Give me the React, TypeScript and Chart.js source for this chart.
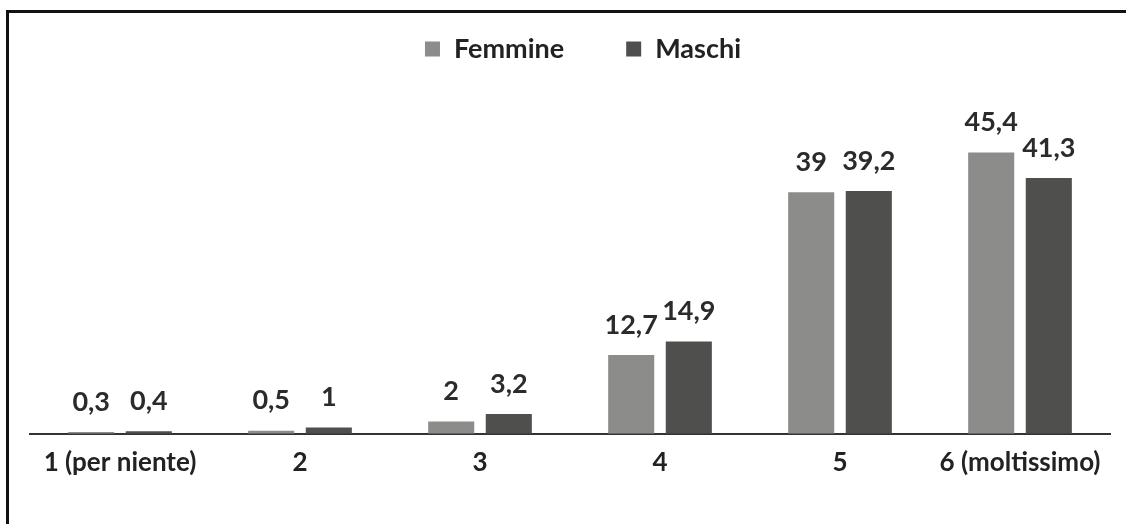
import React, { useEffect, useRef } from "react";
import { Chart, registerables } from "chart.js";

Chart.register(...registerables);

const categories = ["1 (per niente)", "2", "3", "4", "5", "6 (moltissimo)"];
const femmine = [0.3, 0.5, 2, 12.7, 39, 45.4];
const maschi = [0.4, 1, 3.2, 14.9, 39.2, 41.3];
const seriesNames = ["Femmine", "Maschi"];
const seriesColors = ["#8c8c8a", "#4f4f4d"];

const fmt = (v: number) => String(v).replace(".", ",");

const valueLabels = {
  id: "valueLabels",
  afterDatasetsDraw(chart: any) {
    const ctx = chart.ctx;
    ctx.save();
    ctx.font = "bold 27px Lato";
    ctx.fillStyle = "#2b2b2b";
    ctx.textAlign = "center";
    ctx.textBaseline = "middle";
    chart.data.datasets.forEach((ds: any, di: number) => {
      const meta = chart.getDatasetMeta(di);
      meta.data.forEach((bar: any, i: number) => {
        const v = ds.data[i];
        ctx.fillText(fmt(v), bar.x, bar.y - 30);
      });
    });
    ctx.restore();
  },
};

const topLegend = {
  id: "topLegend",
  afterDraw(chart: any) {
    const ctx = chart.ctx;
    const area = chart.chartArea;
    ctx.save();
    ctx.font = "bold 27px Lato";
    ctx.textBaseline = "middle";
    const box = 15;
    const boxGap = 14;
    const itemGap = 62;
    const items = chart.data.datasets.map((ds: any) => ({
      text: ds.label,
      color: ds.backgroundColor,
      w: box + boxGap + ctx.measureText(ds.label).width,
    }));
    const total = items.reduce((s: number, it: any) => s + it.w, 0) + itemGap * (items.length - 1);
    let x = (area.left + area.right) / 2 + 13 - total / 2;
    const y = 49;
    items.forEach((it: any) => {
      ctx.fillStyle = it.color;
      ctx.fillRect(x, y - box / 2, box, box);
      ctx.fillStyle = "#222";
      ctx.textAlign = "left";
      ctx.fillText(it.text, x + box + boxGap, y);
      x += it.w + itemGap;
    });
    ctx.restore();
  },
};

export default function App() {
  const ref = useRef<HTMLCanvasElement>(null);
  useEffect(() => {
    if (!ref.current) return;
    const chart = new Chart(ref.current, {
      type: "bar",
      data: {
        labels: categories,
        datasets: [
          { label: seriesNames[0], data: femmine, backgroundColor: seriesColors[0], borderWidth: 0 },
          { label: seriesNames[1], data: maschi, backgroundColor: seriesColors[1], borderWidth: 0 },
        ],
      },
      options: {
        animation: false,
        responsive: false,
        maintainAspectRatio: false,
        layout: { padding: { left: 30, right: 16, top: 93, bottom: 33 } },
        datasets: { bar: { categoryPercentage: 0.64, barPercentage: 0.8 } } as any,
        plugins: {
          legend: { display: false },
          tooltip: { enabled: false },
        },
        scales: {
          x: {
            grid: { display: false, drawTicks: false },
            border: { display: true, color: "#333", width: 2 },
            ticks: {
              font: { family: "Lato", size: 26, weight: "bold" },
              color: "#222",
              padding: 13,
              maxRotation: 0,
              autoSkip: false,
            },
          },
          y: {
            display: false,
            min: 0,
            max: 55,
          },
        },
      },
      plugins: [valueLabels, topLegend],
    });
    return () => chart.destroy();
  }, []);
  return (
    <div style={{ position: "fixed", left: 0, top: 0, width: 1126, height: 524, background: "#fff" }}>
      <canvas ref={ref} width={1126} height={524} style={{ position: "absolute", left: 0, top: 0 }} />
      <div
        style={{
          position: "absolute",
          left: 6,
          top: 10,
          width: 1126,
          height: 524,
          borderLeft: "3px solid #111",
          borderTop: "3px solid #111",
          pointerEvents: "none",
        }}
      />
    </div>
  );
}
